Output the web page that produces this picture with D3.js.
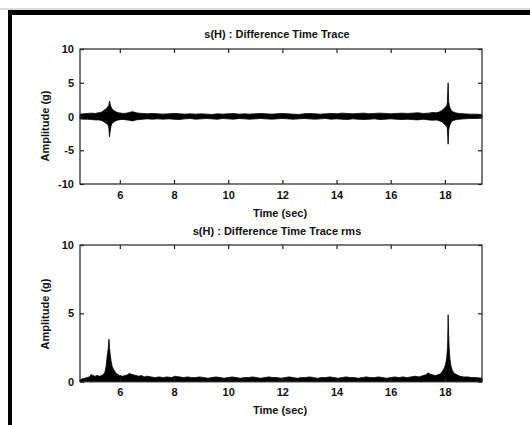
<!DOCTYPE html>
<html><head><meta charset="utf-8">
<script src="https://cdn.jsdelivr.net/npm/d3@7"></script>
<style>body{margin:0;background:#fff}svg{display:block}text{font-family:"Liberation Sans",Arial,sans-serif;fill:#111}</style>
</head><body><svg id="c" width="530" height="425"></svg>
<script>
// ---- data ----
const xTicks = [6, 8, 10, 12, 14, 16, 18];
const traceYTicks = [-10, -5, 0, 5, 10];
const rmsYTicks = [0, 5, 10];
const timeDomain = [4.53, 19.37];

// envelope of the difference time trace (g)
const traceTime  = [4.53,4.65,4.8,4.95,5.1,5.2,5.3,5.38,5.45,5.5,5.55,5.59,5.62,5.64,5.67,5.7,5.75,5.8,5.88,5.95,6.05,6.15,6.25,6.35,6.45,6.52,6.6,6.7,6.85,7.0,7.2,7.4,7.6,7.8,8.0,8.2,8.4,8.6,8.8,9.0,9.2,9.4,9.6,9.8,10.0,10.2,10.4,10.6,10.8,11.0,11.2,11.4,11.6,11.8,12.0,12.2,12.4,12.6,12.8,13.0,13.2,13.4,13.6,13.8,14.0,14.2,14.4,14.6,14.8,15.0,15.2,15.4,15.6,15.8,16.0,16.2,16.4,16.6,16.8,17.0,17.2,17.4,17.55,17.7,17.8,17.9,17.97,18.02,18.06,18.09,18.12,18.14,18.17,18.2,18.24,18.3,18.38,18.45,18.55,18.7,18.9,19.1,19.37];
const traceUpper = [0.35,0.4,0.45,0.5,0.45,0.55,0.6,0.8,1.0,1.2,1.4,1.6,2.3,1.9,1.5,1.2,1.0,0.8,0.65,0.55,0.5,0.45,0.5,0.6,0.7,0.65,0.55,0.5,0.45,0.4,0.45,0.4,0.35,0.4,0.45,0.4,0.35,0.4,0.35,0.4,0.35,0.3,0.4,0.35,0.4,0.45,0.35,0.4,0.35,0.4,0.45,0.4,0.35,0.4,0.45,0.4,0.35,0.3,0.4,0.45,0.4,0.35,0.4,0.45,0.4,0.5,0.45,0.4,0.45,0.5,0.4,0.45,0.5,0.45,0.4,0.45,0.5,0.45,0.5,0.55,0.45,0.5,0.6,0.55,0.7,0.9,1.2,1.4,1.5,2.0,5.0,2.2,1.5,1.2,0.9,0.7,0.55,0.5,0.45,0.4,0.35,0.35,0.3];
const traceLower = [-0.35,-0.4,-0.4,-0.45,-0.5,-0.5,-0.55,-0.7,-0.9,-1.0,-1.2,-1.5,-3.0,-2.3,-1.5,-1.1,-0.9,-0.75,-0.6,-0.5,-0.45,-0.45,-0.5,-0.55,-0.65,-0.6,-0.5,-0.45,-0.4,-0.35,-0.4,-0.35,-0.4,-0.35,-0.4,-0.45,-0.35,-0.3,-0.4,-0.35,-0.3,-0.35,-0.4,-0.3,-0.35,-0.4,-0.3,-0.35,-0.4,-0.35,-0.3,-0.35,-0.4,-0.35,-0.3,-0.35,-0.4,-0.35,-0.3,-0.35,-0.4,-0.35,-0.3,-0.4,-0.35,-0.4,-0.45,-0.35,-0.4,-0.45,-0.4,-0.35,-0.45,-0.4,-0.35,-0.4,-0.45,-0.4,-0.45,-0.5,-0.4,-0.5,-0.55,-0.5,-0.65,-0.8,-1.1,-1.3,-1.4,-1.8,-4.1,-2.0,-1.4,-1.1,-0.8,-0.6,-0.5,-0.45,-0.4,-0.35,-0.3,-0.3,-0.25];

// rms of the difference time trace (g)
const rmsTime  = [4.53,4.6,4.7,4.8,4.88,4.95,5.0,5.08,5.16,5.25,5.33,5.4,5.45,5.5,5.54,5.57,5.6,5.62,5.65,5.68,5.72,5.77,5.83,5.9,6.0,6.1,6.2,6.28,6.35,6.42,6.5,6.6,6.7,6.8,6.9,7.0,7.15,7.3,7.45,7.6,7.75,7.9,8.05,8.2,8.35,8.5,8.65,8.8,8.95,9.1,9.25,9.4,9.55,9.7,9.85,10.0,10.15,10.3,10.45,10.6,10.75,10.9,11.05,11.2,11.35,11.5,11.65,11.8,11.95,12.1,12.25,12.4,12.55,12.7,12.85,13.0,13.15,13.3,13.45,13.6,13.75,13.9,14.05,14.2,14.35,14.5,14.65,14.8,14.95,15.1,15.25,15.4,15.55,15.7,15.85,16.0,16.15,16.3,16.45,16.6,16.75,16.9,17.05,17.2,17.3,17.38,17.45,17.55,17.65,17.75,17.85,17.92,17.98,18.03,18.07,18.1,18.12,18.14,18.16,18.19,18.23,18.28,18.35,18.45,18.55,18.7,18.85,19.0,19.15,19.37];
const rmsValue = [0.15,0.2,0.25,0.3,0.35,0.55,0.45,0.4,0.45,0.4,0.45,0.55,0.7,1.2,2.0,2.4,3.1,2.5,1.9,1.5,1.1,0.9,0.7,0.55,0.45,0.4,0.45,0.5,0.6,0.55,0.5,0.45,0.4,0.45,0.35,0.4,0.35,0.3,0.35,0.3,0.35,0.3,0.4,0.35,0.3,0.35,0.3,0.3,0.35,0.3,0.25,0.3,0.35,0.3,0.25,0.3,0.35,0.3,0.25,0.3,0.3,0.35,0.3,0.25,0.3,0.35,0.3,0.3,0.25,0.3,0.35,0.3,0.25,0.3,0.3,0.35,0.3,0.25,0.3,0.3,0.35,0.3,0.25,0.3,0.35,0.3,0.3,0.25,0.3,0.35,0.3,0.3,0.35,0.3,0.25,0.3,0.35,0.3,0.35,0.3,0.35,0.4,0.35,0.45,0.5,0.65,0.55,0.5,0.45,0.5,0.6,0.8,1.0,1.3,1.8,2.6,4.9,3.4,2.4,1.6,1.1,0.8,0.6,0.5,0.4,0.35,0.35,0.3,0.3,0.25];

// ---- drawing ----
const svg = d3.select("#c");
svg.append("rect").attr("width",530).attr("height",425).attr("fill","#fff");
// frame
svg.append("line").attr("x1",0).attr("x2",530).attr("y1",9).attr("y2",9).attr("stroke","#bbb").attr("stroke-width",1);
svg.append("line").attr("x1",8).attr("x2",530).attr("y1",12.5).attr("y2",12.5).attr("stroke","#000").attr("stroke-width",5);
svg.append("line").attr("x1",10).attr("x2",10).attr("y1",10).attr("y2",425).attr("stroke","#000").attr("stroke-width",4);

const L = 80, R = 482;
const fmt = d => String(d);
function panel(top, bottom, yDomain, yTicks, title, titleY, ylabelY, xlabY, drawData) {
  const x = d3.scaleLinear().domain(timeDomain).range([L, R]);
  const y = d3.scaleLinear().domain(yDomain).range([bottom, top]);
  const g = svg.append("g");
  drawData(g, x, y);
  // box
  g.append("rect").attr("x",L).attr("y",top).attr("width",R-L).attr("height",bottom-top)
    .attr("fill","none").attr("stroke","#222").attr("stroke-width",1.2);
  const fs = "11px";
  const xb = g.append("g").attr("transform",`translate(0,${bottom})`)
    .call(d3.axisBottom(x).tickValues(xTicks).tickSize(-4).tickPadding(7).tickFormat(fmt));
  const xt = g.append("g").attr("transform",`translate(0,${top})`)
    .call(d3.axisTop(x).tickValues(xTicks).tickSize(-4).tickFormat(""));
  const yl = g.append("g").attr("transform",`translate(${L},0)`)
    .call(d3.axisLeft(y).tickValues(yTicks).tickSize(-4).tickPadding(6).tickFormat(fmt));
  const yr = g.append("g").attr("transform",`translate(${R},0)`)
    .call(d3.axisRight(y).tickValues(yTicks).tickSize(-4).tickFormat(""));
  [xb,xt,yl,yr].forEach(a=>{
    a.select(".domain").remove();
    a.selectAll(".tick line").attr("stroke","#222").attr("stroke-width",1.2);
    a.selectAll("text").attr("font-size",fs).attr("font-weight","bold")
      .attr("font-family","'Liberation Sans',Arial,sans-serif").attr("fill","#111");
  });
  g.append("text").attr("x",(L+R)/2-4).attr("y",titleY).attr("text-anchor","middle")
    .attr("font-size","11px").attr("font-weight","bold").text(title);
  g.append("text").attr("x",(L+R)/2-1).attr("y",xlabY).attr("text-anchor","middle")
    .attr("font-size","11px").attr("font-weight","bold").text("Time (sec)");
  g.append("text").attr("transform",`translate(45,${ylabelY}) rotate(-90)`).attr("text-anchor","middle")
    .attr("dy","0.35em").attr("font-size","11px").attr("font-weight","bold").text("Amplitude (g)");
}

panel(49, 184, [-10, 10], traceYTicks, "s(H) : Difference Time Trace", 38, 126, 217, (g, x, y) => {
  const data = traceTime.map((t,i)=>({t, u: traceUpper[i], l: traceLower[i]}));
  g.append("path").datum(data)
    .attr("d", d3.area().x(d=>x(d.t)).y0(d=>y(d.l)).y1(d=>y(d.u)))
    .attr("fill","#000").attr("stroke","#000").attr("stroke-width",0.8);
});

panel(245, 381.7, [0, 10], rmsYTicks, "s(H) : Difference Time Trace rms", 235, 314, 414, (g, x, y) => {
  const data = rmsTime.map((t,i)=>({t, v: rmsValue[i]}));
  g.append("path").datum(data)
    .attr("d", d3.area().x(d=>x(d.t)).y0(y(0)).y1(d=>y(d.v)))
    .attr("fill","#000").attr("stroke","#000").attr("stroke-width",0.8);
});
</script></body></html>
